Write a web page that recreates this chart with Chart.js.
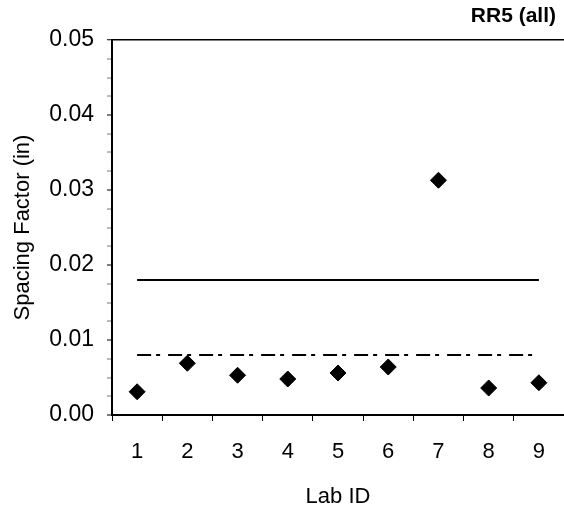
<!DOCTYPE html>
<html>
<head>
<meta charset="utf-8">
<script src="https://cdn.jsdelivr.net/npm/chart.js@4/dist/chart.umd.min.js"></script>
<style>
  html, body { margin: 0; padding: 0; background: #fff; overflow: hidden; }
  canvas { display: block; }
</style>
</head>
<body>
<canvas id="c" width="564" height="512"></canvas>
<script>
// ---- data ----
const labIds = ['1', '2', '3', '4', '5', '6', '7', '8', '9'];
const spacingFactor = [0.0031, 0.0069, 0.0053, 0.0048, 0.0056, 0.0064, 0.0313, 0.0036, 0.0043];
const upperLimit = [0.018, 0.018, 0.018, 0.018, 0.018, 0.018, 0.018, 0.018, 0.018];
const lowerLimit = [0.008, 0.008, 0.008, 0.008, 0.008, 0.008, 0.008, 0.008, 0.008];
const yTickValues = [0.00, 0.01, 0.02, 0.03, 0.04, 0.05];
const chartTitle = 'RR5 (all)';
const xTitle = 'Lab ID';
const yTitle = 'Spacing Factor (in)';

const FONT = '"Liberation Sans", Arial, Helvetica, sans-serif';

const titlePlugin = {
  id: 'cornerTitle',
  afterDraw(chart) {
    const ctx = chart.ctx;
    ctx.save();
    ctx.font = 'bold 21px ' + FONT;
    ctx.fillStyle = '#000';
    ctx.textAlign = 'right';
    ctx.textBaseline = 'middle';
    ctx.fillText(chartTitle, chart.width - 8, 16);
    ctx.restore();
  }
};

new Chart(document.getElementById('c'), {
  type: 'line',
  data: {
    labels: labIds,
    datasets: [
      {
        label: 'Spacing factor',
        data: spacingFactor,
        showLine: false,
        pointStyle: 'rectRot',
        pointRadius: 8,
        pointBackgroundColor: '#000',
        pointBorderColor: '#000',
        pointBorderWidth: 1,
        order: 0
      },
      {
        label: 'Upper',
        data: upperLimit,
        borderColor: '#000',
        borderWidth: 2,
        pointRadius: 0,
        fill: false,
        order: 1
      },
      {
        label: 'Lower',
        data: lowerLimit,
        borderColor: '#000',
        borderWidth: 2,
        borderDash: [14, 5, 4, 8],
        pointRadius: 0,
        fill: false,
        order: 1
      }
    ]
  },
  options: {
    responsive: false,
    devicePixelRatio: 1,
    animation: false,
    layout: { autoPadding: false, padding: { top: 40, left: 0, right: 0, bottom: 0 } },
    plugins: {
      legend: { display: false },
      tooltip: { enabled: false },
      title: { display: false }
    },
    scales: {
      x: {
        type: 'category',
        offset: true,
        afterFit(scale) {
          scale.height = 97;
          scale.paddingLeft = 0;
          scale.paddingRight = 0;
        },
        border: { display: true, color: '#000', width: 2 },
        grid: {
          display: true,
          offset: true,
          drawOnChartArea: false,
          drawTicks: true,
          tickLength: 6,
          tickColor: '#000',
          tickWidth: 1,
          color: '#000'
        },
        ticks: {
          color: '#000',
          font: { family: FONT, size: 22 },
          padding: 18,
          maxRotation: 0,
          autoSkip: false
        },
        title: {
          display: true,
          text: xTitle,
          color: '#000',
          font: { family: FONT, size: 22 },
          padding: { top: 0, bottom: 2 }
        }
      },
      y: {
        type: 'linear',
        min: 0,
        max: 0.05,
        afterFit(scale) { scale.width = 112; },
        border: { display: true, color: '#000', width: 2 },
        grid: {
          display: true,
          drawOnChartArea: true,
          drawTicks: true,
          tickLength: 5,
          lineWidth: (ctx) => (ctx.tick && Math.abs(ctx.tick.value - 0.05) < 1e-9) ? 1.5 : 0,
          color: (ctx) => (ctx.tick && Math.abs(ctx.tick.value - 0.05) < 1e-9) ? '#000' : 'rgba(0,0,0,0)',
          tickColor: (ctx) => {
            const v = ctx.tick ? ctx.tick.value : 0;
            const major = yTickValues.some(t => Math.abs(t - v) < 1e-9);
            return major ? '#000' : '#777';
          },
          tickWidth: 1
        },
        ticks: {
          stepSize: 0.0025,
          maxTicksLimit: 40,
          autoSkip: false,
          color: '#000',
          font: { family: FONT, size: 23 },
          padding: 13,
          callback: (value) => {
            const major = yTickValues.find(t => Math.abs(t - value) < 1e-9);
            return major === undefined ? '' : major.toFixed(2);
          }
        },
        title: {
          display: true,
          text: yTitle,
          color: '#000',
          font: { family: FONT, size: 22 },
          padding: { top: 10, bottom: 0 }
        }
      }
    }
  },
  plugins: [titlePlugin]
});
</script>
</body>
</html>
